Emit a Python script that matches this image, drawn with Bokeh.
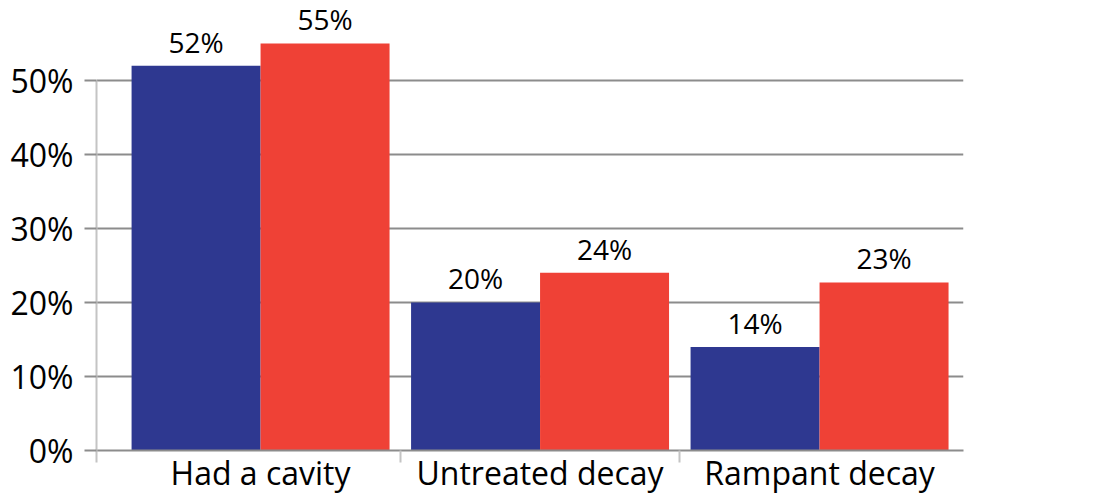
import numpy as np
from bokeh.plotting import figure
from bokeh.models import ColumnDataSource, LabelSet, FixedTicker, Range1d, PrintfTickFormatter
from bokeh.core.properties import value
from bokeh.embed import file_html
from bokeh.resources import INLINE

# ---- data ----
categories = ["Had a cavity", "Untreated decay", "Rampant decay"]
series_blue = [52, 20, 14]
series_red = [55, 24, 22.7]
y_ticks = [0, 10, 20, 30, 40, 50]

BLUE = "#2e3890"
RED = "#ef4136"
GRID = "#8c8c8c"
LIGHT = "#c4c4c4"
FONT = "Open Sans"

x = np.arange(len(categories), dtype=float)
bw = 0.4615
x_start, x_end = -0.587, 2.515

p = figure(width=1112, height=496, output_backend="svg", toolbar_location=None,
           x_range=Range1d(x_start, x_end), y_range=Range1d(0, 60.8),
           min_border_left=96, min_border_right=149, min_border_top=0, min_border_bottom=46)
p.outline_line_color = None
p.background_fill_color = "white"
p.border_fill_color = "white"

src = ColumnDataSource(dict(
    cat=categories, x=x, xa=x - bw / 2, xb=x + bw / 2,
    a=series_blue, b=series_red,
    la=[f"{round(v)}%" for v in series_blue],
    lb=[f"{round(v)}%" for v in series_red],
))

p.vbar(x="xa", top="a", width=bw, source=src, fill_color=BLUE, line_color=None)
p.vbar(x="xb", top="b", width=bw, source=src, fill_color=RED, line_color=None)

for xc, yc, tc in [("xa", "a", "la"), ("xb", "b", "lb")]:
    p.add_layout(LabelSet(x=xc, y=yc, text=tc, source=src, text_align="center",
                          text_baseline="alphabetic", y_offset=13,
                          text_font=value(FONT), text_font_size="28px", text_color="black"))

# y axis
yax = p.yaxis[0]
yax.ticker = FixedTicker(ticks=y_ticks)
yax.formatter = PrintfTickFormatter(format="%d%%")
yax.bounds = (0, 50)
yax.axis_line_color = LIGHT
yax.axis_line_width = 2
yax.major_tick_line_color = GRID
yax.major_tick_line_width = 2
yax.major_tick_out = 12
yax.major_tick_in = 0
yax.minor_tick_line_color = None
yax.major_label_standoff = 11
yax.major_label_text_font = FONT
yax.major_label_text_font_size = "32px"
yax.major_label_text_color = "black"

p.ygrid.ticker = FixedTicker(ticks=y_ticks)
p.ygrid.grid_line_color = GRID
p.ygrid.grid_line_width = 2
p.xgrid.visible = False

# x axis
xax = p.xaxis[0]
xax.ticker = FixedTicker(ticks=list(x), minor_ticks=[x_start] + list(x[:-1] + 0.5))
xax.major_label_overrides = {i: c for i, c in enumerate(categories)}
xax.major_label_text_font = FONT
xax.major_label_text_font_size = "32px"
xax.major_label_text_color = "black"
xax.major_label_standoff = -12
xax.axis_line_color = GRID
xax.axis_line_width = 2
xax.major_tick_line_color = None
xax.major_tick_out = 0
xax.major_tick_in = 0
xax.minor_tick_line_color = LIGHT
xax.minor_tick_line_width = 2
xax.minor_tick_out = 12
xax.minor_tick_in = 0

open("out.html", "w").write(file_html(p, INLINE))
